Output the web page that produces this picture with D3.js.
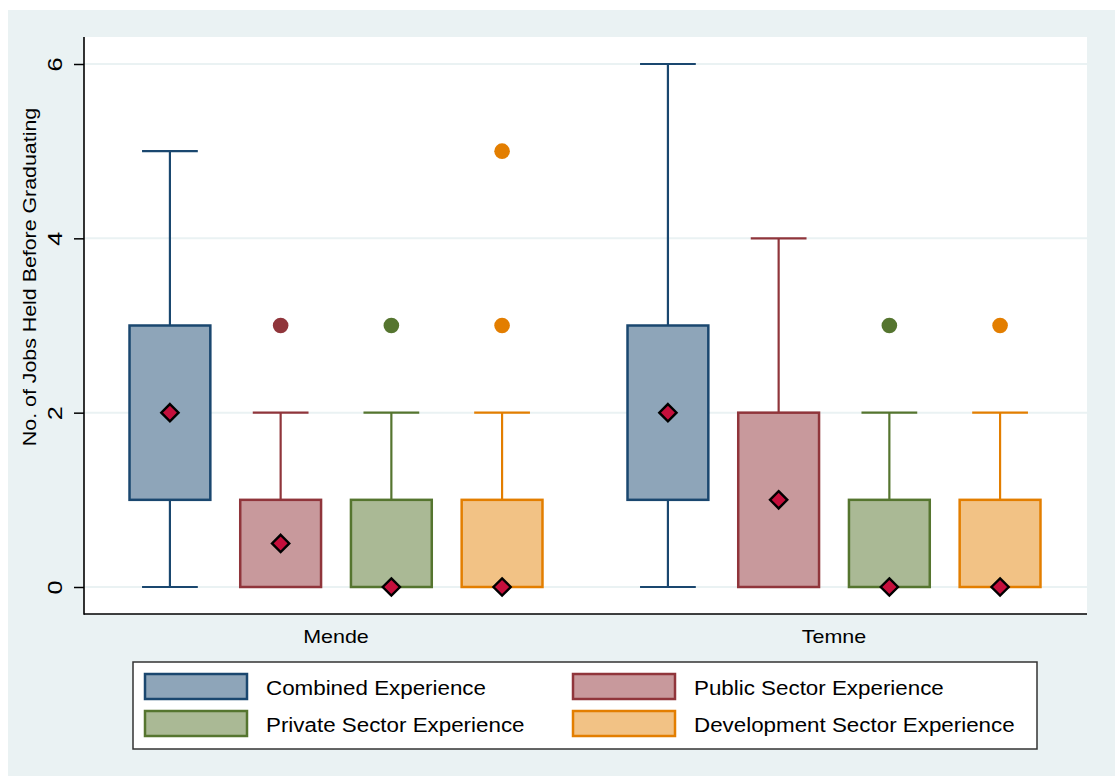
<!DOCTYPE html>
<html>
<head>
<meta charset="utf-8">
<script src="https://cdn.jsdelivr.net/npm/d3@7"></script>
<style>
  html, body { margin: 0; padding: 0; background: #ffffff; }
  svg { display: block; }
  text { font-family: "Liberation Sans", Arial, sans-serif; fill: #000; }
</style>
</head>
<body>
<svg id="chart" width="1115" height="778"></svg>
<script>
// Ethnic groups on the x axis
const groups = ["Mende", "Temne"];
// Experience types drawn as boxes within each group
const series = ["Combined Experience", "Public Sector Experience", "Private Sector Experience", "Development Sector Experience"];

// Box statistics per group (rows) and series (columns)
const q1Values      = [[1, 0, 0, 0], [1, 0, 0, 0]];
const q3Values      = [[3, 1, 1, 1], [3, 2, 1, 1]];
const medianValues  = [[2, 0.5, 0, 0], [2, 1, 0, 0]];
const whiskerLow    = [[0, 0, 0, 0], [0, 0, 0, 0]];
const whiskerHigh   = [[5, 2, 2, 2], [6, 4, 2, 2]];
const outlierValues = [[[], [3], [3], [3, 5]], [[], [], [3], [3]]];

const yTicks = [0, 2, 4, 6];

// Stata s2color-like palette
const strokeColors = ["#1a476f", "#90353b", "#55752f", "#e37e00"];
const fillColors   = ["#8ea5b9", "#c8999c", "#aab995", "#f2c285"];

const svg = d3.select("#chart");

// outer graph region
svg.append("rect").attr("x", 8).attr("y", 10).attr("width", 1107).attr("height", 766).attr("fill", "#eaf2f3");

const plot = { left: 84, right: 1087, top: 37, bottom: 614 };
svg.append("rect")
  .attr("x", plot.left).attr("y", plot.top)
  .attr("width", plot.right - plot.left).attr("height", plot.bottom - plot.top)
  .attr("fill", "#ffffff");

const y = d3.scaleLinear().domain([0, 6]).range([587, 64]);
const x0 = d3.scaleBand().domain(groups).range([87, 1083]).padding(0);
const x1 = d3.scaleBand().domain(series).range([0, x0.bandwidth()]).paddingInner(0.27).paddingOuter(0.384);

// gridlines
svg.append("g").selectAll("line").data(yTicks).join("line")
  .attr("x1", plot.left).attr("x2", plot.right)
  .attr("y1", d => y(d)).attr("y2", d => y(d))
  .attr("stroke", "#eaf2f3").attr("stroke-width", 2);

// y axis
const yAxis = svg.append("g").attr("transform", `translate(${plot.left},0)`)
  .call(d3.axisLeft(y).tickValues(yTicks).tickSize(10).tickSizeOuter(0).tickFormat(d3.format("d")));
yAxis.select(".domain").remove();
yAxis.selectAll(".tick line").attr("stroke", "#000").attr("stroke-width", 1.5);
yAxis.selectAll(".tick text").remove();
yAxis.selectAll(".tick").append("text")
  .attr("transform", "translate(-29,0) rotate(-90) scale(1.3,1)")
  .attr("text-anchor", "middle").attr("dy", "0.36em")
  .attr("font-size", 19.5)
  .text(d => d3.format("d")(d));

svg.append("line").attr("x1", plot.left).attr("x2", plot.left).attr("y1", plot.top).attr("y2", plot.bottom + 0.75)
  .attr("stroke", "#000").attr("stroke-width", 1.6);
svg.append("line").attr("x1", plot.left).attr("x2", plot.right).attr("y1", plot.bottom).attr("y2", plot.bottom)
  .attr("stroke", "#000").attr("stroke-width", 1.6);

// y axis title
svg.append("text")
  .attr("transform", "translate(36,277) rotate(-90) scale(1.2,1)")
  .attr("text-anchor", "middle").attr("font-size", 17.8)
  .text("No. of Jobs Held Before Graduating");

// group labels
svg.append("g").selectAll("text").data(groups).join("text")
  .attr("transform", d => `translate(${x0(d) + x0.bandwidth() / 2},643) scale(1.13,1)`)
  .attr("text-anchor", "middle").attr("font-size", 19)
  .text(d => d);

// boxes
const bw = x1.bandwidth();
const capW = bw * 0.69;
const diamond = d3.symbol().type(d3.symbolDiamond2).size(190);

groups.forEach((g, gi) => {
  series.forEach((s, si) => {
    const cx = x0(g) + x1(s) + bw / 2;
    const grp = svg.append("g");
    const col = strokeColors[si];
    const lo = whiskerLow[gi][si], hi = whiskerHigh[gi][si];
    const q1 = q1Values[gi][si], q3 = q3Values[gi][si];

    // upper whisker
    if (hi > q3) {
      grp.append("line").attr("x1", cx).attr("x2", cx).attr("y1", y(q3)).attr("y2", y(hi))
        .attr("stroke", col).attr("stroke-width", 2.2);
      grp.append("line").attr("x1", cx - capW / 2).attr("x2", cx + capW / 2).attr("y1", y(hi)).attr("y2", y(hi))
        .attr("stroke", col).attr("stroke-width", 2.2);
    }
    // lower whisker
    if (lo < q1) {
      grp.append("line").attr("x1", cx).attr("x2", cx).attr("y1", y(q1)).attr("y2", y(lo))
        .attr("stroke", col).attr("stroke-width", 2.2);
      grp.append("line").attr("x1", cx - capW / 2).attr("x2", cx + capW / 2).attr("y1", y(lo)).attr("y2", y(lo))
        .attr("stroke", col).attr("stroke-width", 2.2);
    }
    // box
    grp.append("rect")
      .attr("x", cx - bw / 2).attr("width", bw)
      .attr("y", y(q3)).attr("height", y(q1) - y(q3))
      .attr("fill", fillColors[si]).attr("stroke", col).attr("stroke-width", 2.5);
    // outliers
    grp.selectAll("circle").data(outlierValues[gi][si]).join("circle")
      .attr("cx", cx).attr("cy", d => y(d)).attr("r", 7.8)
      .attr("fill", col);
    // median marker
    grp.append("path")
      .attr("d", diamond)
      .attr("transform", `translate(${cx},${y(medianValues[gi][si])})`)
      .attr("fill", "#c50f3c").attr("stroke", "#000").attr("stroke-width", 2.4);
  });
});

// legend
const legend = svg.append("g");
legend.append("rect").attr("x", 133).attr("y", 662).attr("width", 904).attr("height", 87)
  .attr("fill", "#ffffff").attr("stroke", "#333").attr("stroke-width", 1.5);
const colX = [145, 573];
const rowY = [674, 711];
series.forEach((s, i) => {
  const kx = colX[i % 2], ky = rowY[Math.floor(i / 2)];
  legend.append("rect").attr("x", kx).attr("y", ky).attr("width", 102).attr("height", 25)
    .attr("fill", fillColors[i]).attr("stroke", strokeColors[i]).attr("stroke-width", 2.5);
  legend.append("text")
    .attr("transform", `translate(${kx + 121},${ky + 20.5}) scale(1.065,1)`)
    .attr("font-size", 21)
    .text(s);
});
</script>
</body>
</html>
